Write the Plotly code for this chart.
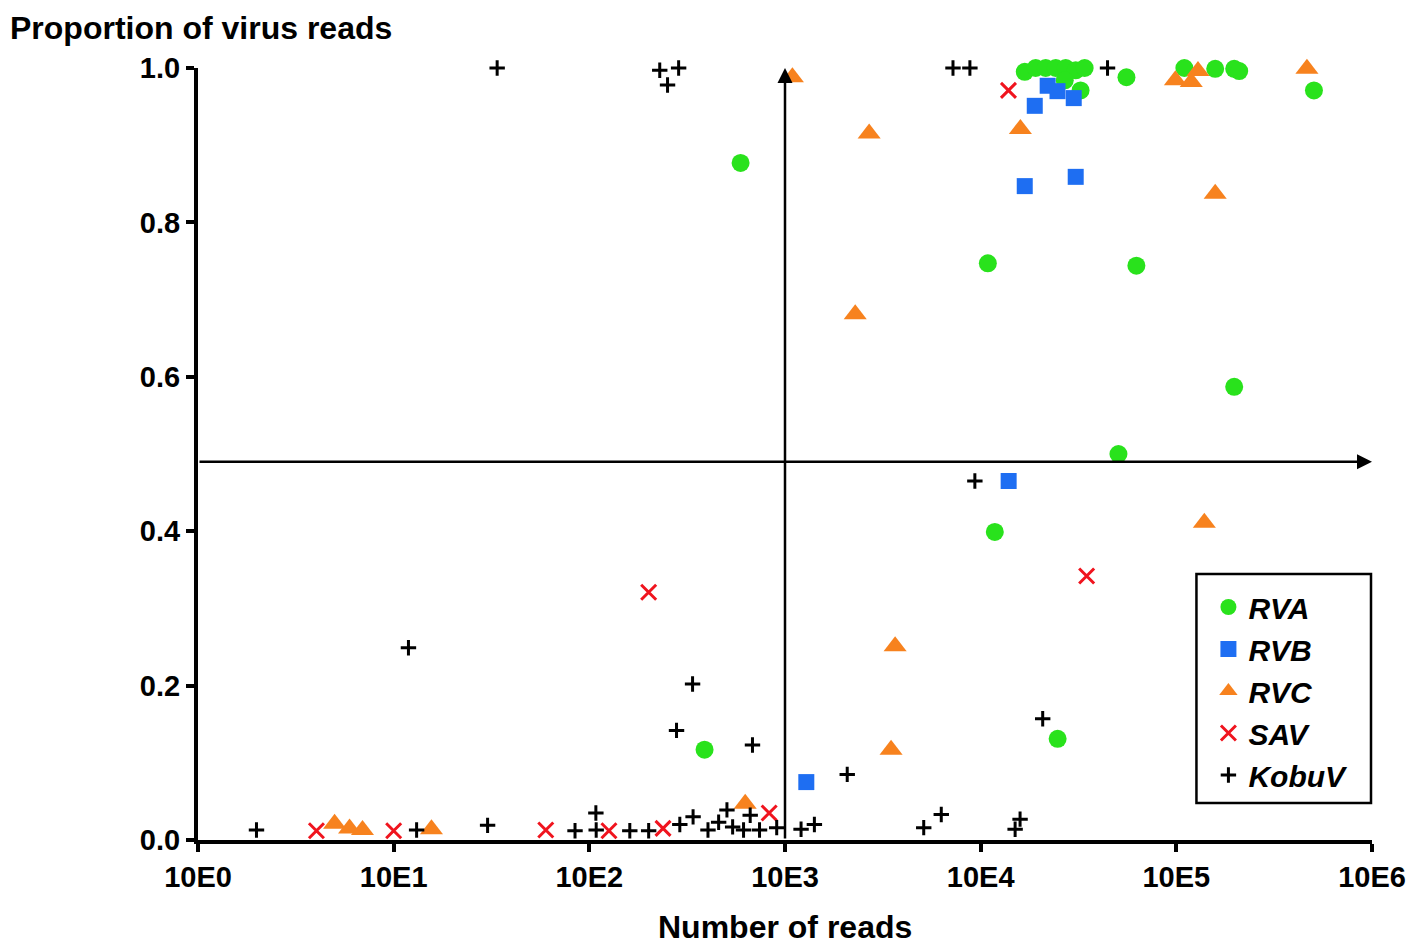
import plotly.graph_objects as go

# read counts and proportion of reads belonging to the virus, per sample
rva_reads = [593, 10880, 62500, 197600, 50600, 11810, 24740, 388,
             16800, 19100, 21500, 24200, 27200, 30600, 34000, 26900, 32400,
             55600, 109900, 158000, 197600, 209600, 505000]
rva_prop = [0.877, 0.747, 0.744, 0.587, 0.500, 0.399, 0.131, 0.117,
            0.995, 1.0, 1.0, 1.0, 1.0, 0.997, 1.0, 0.984, 0.971,
            0.988, 1.0, 0.999, 0.999, 0.996, 0.971]

rvb_reads = [22000, 24700, 29900, 18900, 16800, 30600, 13900, 1285]
rvb_prop = [0.977, 0.970, 0.961, 0.951, 0.847, 0.859, 0.465, 0.075]

rvc_reads = [1091, 2692, 2285, 15960, 98900, 119200, 129000, 465000, 158000,
             139000, 3654, 3484, 626, 4.99, 5.95, 6.93, 15.6]
rvc_prop = [0.988, 0.915, 0.681, 0.921, 0.984, 0.982, 0.996, 0.999, 0.837,
            0.411, 0.251, 0.117, 0.047, 0.021, 0.015, 0.013, 0.014]

sav_reads = [13870, 34800, 201, 830, 4.03, 10.0, 59.9, 126, 238]
sav_prop = [0.971, 0.342, 0.321, 0.035, 0.012, 0.012, 0.013, 0.012, 0.015]

kobuv_reads = [33.8, 229, 286, 251, 7220, 8810, 44500, 9340, 11.9,
               337, 279, 682, 2080, 20750, 5117, 6290, 15000, 15900,
               1.99, 13.1, 30.2, 84.5, 108, 108.4, 161, 201, 290, 339, 404,
               458, 505, 540, 614, 664, 741, 907, 1208, 1413]
kobuv_prop = [1.0, 0.997, 1.0, 0.978, 1.0, 1.0, 1.0, 0.465, 0.249,
              0.202, 0.142, 0.123, 0.085, 0.157, 0.016, 0.033, 0.014, 0.027,
              0.013, 0.013, 0.019, 0.012, 0.035, 0.013, 0.012, 0.012, 0.020, 0.030, 0.013,
              0.023, 0.039, 0.017, 0.013, 0.032, 0.013, 0.016, 0.014, 0.020]

x_ticks = [1, 10, 100, 1000, 10000, 100000, 1000000]
x_tick_labels = ['10E0', '10E1', '10E2', '10E3', '10E4', '10E5', '10E6']
y_ticks = [0, 0.2, 0.4, 0.6, 0.8, 1.0]
y_tick_labels = ['0.0', '0.2', '0.4', '0.6', '0.8', '1.0']

FONT = 'Liberation Sans, Arial, Helvetica, sans-serif'

# plot area is 1177 x 772 px; the page adds an 8px body margin
PW, PH = 1177, 772

fig = go.Figure()

fig.add_trace(go.Scatter(x=rva_reads, y=rva_prop, mode='markers', name='RVA',
                         marker=dict(symbol='circle', size=18, color='#29E21C'),
                         cliponaxis=False))
fig.add_trace(go.Scatter(x=rvb_reads, y=rvb_prop, mode='markers', name='RVB',
                         marker=dict(symbol='square', size=16, color='#1E6EF2'),
                         cliponaxis=False))
fig.add_trace(go.Scatter(x=rvc_reads, y=rvc_prop, mode='markers', name='RVC',
                         marker=dict(symbol='triangle-up', size=20, color='#F7821E'),
                         cliponaxis=False))
fig.add_trace(go.Scatter(x=sav_reads, y=sav_prop, mode='markers', name='SAV',
                         marker=dict(symbol='x-thin', size=15,
                                     line=dict(color='#F0141E', width=3)),
                         cliponaxis=False))
fig.add_trace(go.Scatter(x=kobuv_reads, y=kobuv_prop, mode='markers', name='KobuV',
                         marker=dict(symbol='cross-thin', size=11,
                                     line=dict(color='black', width=3)),
                         cliponaxis=False))

# crosshair arrows
fig.add_annotation(x=3, y=1.0, ax=3, ay=0, xref='x', yref='y', axref='x', ayref='y',
                   text='', showarrow=True, arrowhead=2, arrowsize=1.2,
                   arrowwidth=2.5, arrowcolor='black')
fig.add_annotation(x=6, y=0.49, ax=0, ay=0.49, xref='x', yref='y', axref='x', ayref='y',
                   text='', showarrow=True, arrowhead=2, arrowsize=1.2,
                   arrowwidth=2.5, arrowcolor='black')

# axis titles
fig.add_annotation(text='<b>Proportion of virus reads</b>', xref='paper', yref='paper',
                   x=-190 / PW, y=(840 - 8) / PH, xanchor='left', yanchor='top',
                   showarrow=False, font=dict(family=FONT, size=32, color='black'))
fig.add_annotation(text='<b>Number of reads</b>', xref='paper', yref='paper',
                   x=0.5, y=(840 - 927) / PH, xanchor='center', yanchor='middle',
                   showarrow=False, font=dict(family=FONT, size=32, color='black'))

# legend frame
fig.add_shape(type='rect', xref='paper', yref='paper', layer='above',
              x0=(1199 - 198) / PW, x1=(1374 - 198) / PW,
              y0=(840 - 803) / PH, y1=(840 - 574) / PH,
              line=dict(color='black', width=2.5), fillcolor='white')

fig.update_xaxes(type='log', range=[0, 6], tickvals=x_ticks, ticktext=x_tick_labels,
                 showgrid=False, zeroline=False, showline=True, linecolor='black',
                 linewidth=4, ticks='outside', ticklen=8, tickwidth=4, tickcolor='black',
                 tickfont=dict(family=FONT, size=29, color='black', weight='bold'))
fig.update_yaxes(range=[0, 1], tickvals=y_ticks, ticktext=y_tick_labels,
                 showgrid=False, zeroline=False, showline=True, linecolor='black',
                 linewidth=4, ticks='outside', ticklen=8, tickwidth=4, tickcolor='black',
                 tickfont=dict(family=FONT, size=29, color='black', weight='bold'))

fig.update_layout(
    width=1410, height=938,
    margin=dict(l=190, r=43, t=60, b=106),
    plot_bgcolor='white', paper_bgcolor='white',
    font=dict(family=FONT, color='black'),
    legend=dict(x=(1211 - 198) / PW, y=(840 - 581) / PH, xanchor='left', yanchor='top',
                borderwidth=0, bgcolor='rgba(0,0,0,0)',
                font=dict(family=FONT, size=30, color='black', weight='bold', style='italic')),
)

fig.write_html("out.html")
